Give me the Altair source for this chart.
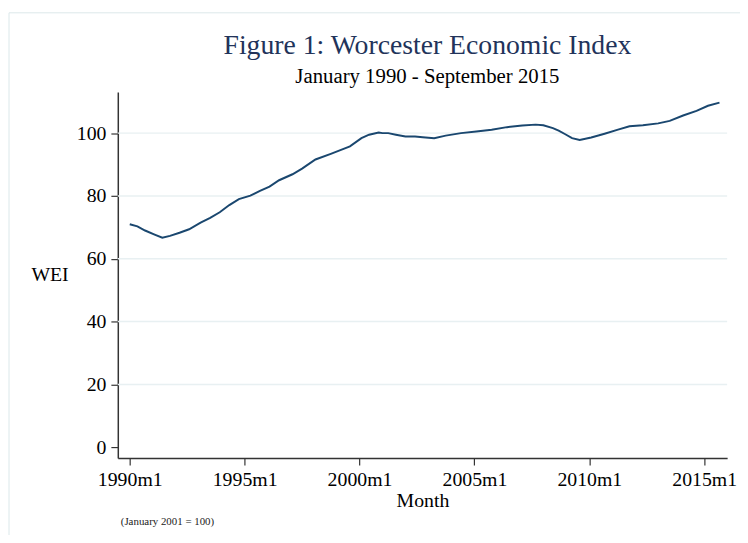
import altair as alt
import pandas as pd

# Monthly readings (YYYY-MM) of the Worcester Economic Index
months = ["1990-01", "1990-05", "1990-09", "1991-02", "1991-06", "1991-10", "1992-03", "1992-08",
          "1993-02", "1993-07", "1993-12", "1994-05", "1994-10", "1995-04", "1995-09", "1996-02",
          "1996-07", "1997-02", "1997-07", "1998-02", "1998-10", "1999-03", "1999-08", "2000-02",
          "2000-06", "2000-11", "2001-01", "2001-04", "2001-08", "2002-01", "2002-06", "2002-10",
          "2003-04", "2003-10", "2004-06", "2005-02", "2005-10", "2006-06", "2007-02", "2007-09",
          "2008-01", "2008-06", "2008-09", "2008-12", "2009-04", "2009-08", "2010-02", "2010-09",
          "2011-04", "2011-10", "2012-05", "2013-01", "2013-07", "2014-02", "2014-09", "2015-03",
          "2015-09"]
wei = [71.0, 70.3, 69.0, 67.7, 66.7, 67.3, 68.3, 69.4,
       71.5, 73.0, 74.8, 77.1, 79.0, 80.1, 81.6, 83.0,
       85.0, 86.9, 88.7, 91.6, 93.4, 94.6, 95.8, 98.4,
       99.5, 100.2, 100.0, 100.0, 99.5, 98.9, 98.9, 98.7,
       98.4, 99.2, 100.0, 100.5, 101.1, 101.9, 102.4, 102.7,
       102.5, 101.6, 100.8, 99.8, 98.4, 97.8, 98.6, 99.8,
       101.1, 102.2, 102.5, 103.1, 103.9, 105.6, 107.1, 108.7,
       109.7]
x_ticks = [1990, 1995, 2000, 2005, 2010, 2015]
y_ticks = [0, 20, 40, 60, 80, 100]
grid_vals = [20, 40, 60, 80, 100]

t = [int(m[:4]) + (int(m[5:]) - 1) / 12 for m in months]
df = pd.DataFrame({"t": t, "wei": wei})

FONT = "Liberation Serif"
W, H = 616, 370

xscale = alt.Scale(domain=[1989.48, 2016.0], nice=False, zero=False)
yscale = alt.Scale(domain=[-3.4, 113.1], nice=False, zero=False)

frame = alt.Chart(pd.DataFrame({"a": [0]})).mark_rect(
    fill=None, stroke="#dce8ea", strokeWidth=1
).encode(x=alt.value(-110), x2=alt.value(700), y=alt.value(-80), y2=alt.value(470))

grid = alt.Chart(pd.DataFrame({"g": grid_vals})).mark_rule(
    color="#e8f0f2", strokeWidth=1.5
).encode(y=alt.Y("g:Q", scale=yscale))

line = alt.Chart(df).mark_line(color="#1a476f", strokeWidth=2).encode(
    x=alt.X("t:Q", scale=xscale,
            axis=alt.Axis(values=x_ticks, labelExpr="datum.value + 'm1'", title="Month",
                          titleY=49, titleBaseline="alphabetic", labelPadding=5,
                          tickSize=7)),
    y=alt.Y("wei:Q", scale=yscale,
            axis=alt.Axis(values=y_ticks, title="WEI", titleAngle=0, titleX=-69, titleY=185,
                          titleAlign="center", titleBaseline="middle", labelPadding=5,
                          tickSize=7)),
)

note = alt.Chart(pd.DataFrame({"a": [0]})).mark_text(
    text="(January 2001 = 100)", font=FONT, fontSize=11, align="left", baseline="alphabetic",
    color="#222222"
).encode(x=alt.value(3), y=alt.value(438))

chart = alt.layer(frame, grid, line, note).properties(
    width=W, height=H,
    title=alt.TitleParams(
        text="Figure 1: Worcester Economic Index",
        subtitle="January 1990 - September 2015",
        font=FONT, fontSize=28, fontWeight="normal", color="#22335a",
        subtitleFont=FONT, subtitleFontSize=21, subtitleColor="#000000",
        anchor="middle", frame="group", offset=5, subtitlePadding=6, dy=80, dx=5,
    ),
    autosize=alt.AutoSizeParams(type="none"),
    padding={"left": 111, "top": 82, "right": 13, "bottom": 75},
).configure_view(stroke=None).configure_axis(
    labelFont=FONT, labelFontSize=20, labelColor="#000000",
    titleFont=FONT, titleFontSize=20, titleColor="#000000", titleFontWeight="normal",
    domainColor="#333333", domainWidth=1.5, tickColor="#333333", tickWidth=1.2,
    grid=False,
)

chart.save("out.html", embed_options={"renderer": "svg", "actions": False})
